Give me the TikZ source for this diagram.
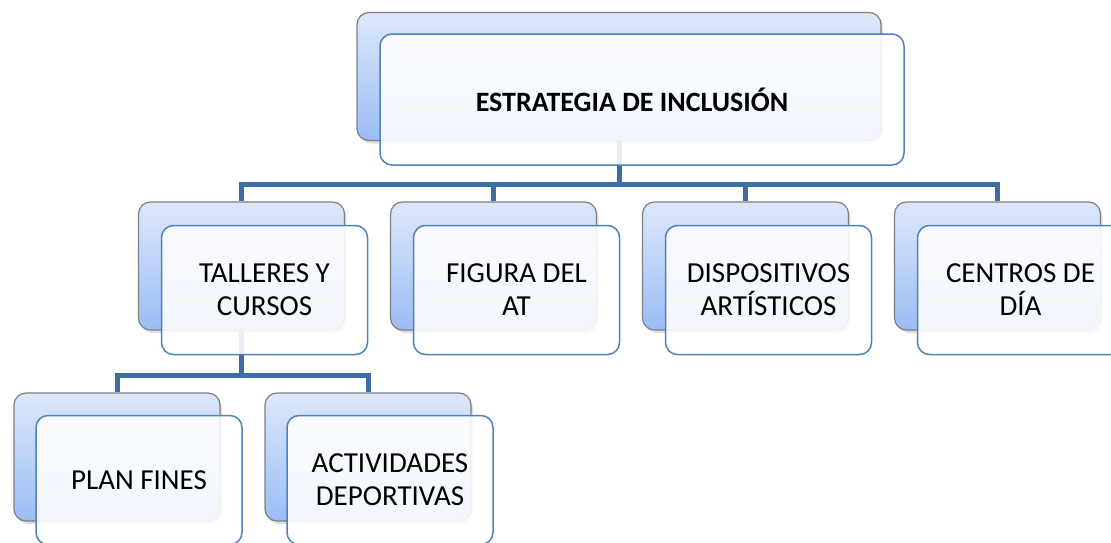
\documentclass[tikz,border=0pt]{standalone}
\usepackage{fontspec}
\setmainfont{Carlito}
\usetikzlibrary{positioning,shadows,backgrounds}
\definecolor{boxgray}{HTML}{7F7F7F}
\definecolor{backtop}{HTML}{DDE7FA}
\definecolor{backbot}{HTML}{9BBDF5}
\definecolor{frontblue}{HTML}{4F81BD}
\definecolor{linkblue}{HTML}{3E6DA3}

\begin{document}
\begin{tikzpicture}[x=1pt,y=-1pt,node distance=252pt,on grid,
    backbox/.style={draw=boxgray, line width=1.2pt, rounded corners=12pt,
      top color=backtop, bottom color=backbot,
      minimum width=206pt, minimum height=128pt,
      drop shadow={shadow xshift=2pt, shadow yshift=-3pt, opacity=0.25}},
    frontbox/.style={draw=frontblue, line width=1.5pt, rounded corners=12pt,
      fill=white, fill opacity=0.88, text opacity=1, align=center,
      minimum width=206pt, minimum height=129pt,
      font=\fontsize{29}{33}\selectfont},
    link/.style={draw=linkblue, line width=5pt}]
   \useasboundingbox (0,0) rectangle (1111,542);
   \clip (0,0) rectangle (1111,542);

   % top level
   \node[backbox, minimum width=524pt, minimum height=128pt] (estrategia) at (619,76.5) {};
   \node[frontbox, minimum width=524pt, minimum height=131pt, xshift=23pt, yshift=-23pt,
     font=\bfseries\fontsize{28}{33}\selectfont] (estrategiaF) at (estrategia) {ESTRATEGIA DE INCLUSI\'ON\hspace*{20pt}};

   % second level
   \node[backbox] (talleres) at (241.5,266) {};
   \node[backbox, right=of talleres] (figura) {};
   \node[backbox, right=of figura] (dispositivos) {};
   \node[backbox, right=of dispositivos] (centros) {};
   \node[frontbox, xshift=23pt, yshift=-24pt] (talleresF) at (talleres) {TALLERES Y\\CURSOS};
   \node[frontbox, xshift=23pt, yshift=-24pt] (figuraF) at (figura) {FIGURA DEL\\AT};
   \node[frontbox, xshift=23pt, yshift=-24pt] (dispositivosF) at (dispositivos) {DISPOSITIVOS\\ART\'ISTICOS};
   \node[frontbox, xshift=23pt, yshift=-24pt] (centrosF) at (centros) {CENTROS DE\\D\'IA};

   % third level
   \node[backbox] (plan) at (117,457) {};
   \node[backbox, right=251pt of plan] (actividades) {};
   \node[frontbox, xshift=22pt, yshift=-23pt] (planF) at (plan) {PLAN FINES};
   \node[frontbox, xshift=22pt, yshift=-23pt] (actividadesF) at (actividades) {ACTIVIDADES\\DEPORTIVAS};

   \begin{scope}[on background layer]
   \draw[link] (estrategia.south) -- ++(0,43) -| (talleres.north);
   \draw[link] (estrategia.south) -- ++(0,43) -| (figura.north);
   \draw[link] (estrategia.south) -- ++(0,43) -| (dispositivos.north);
   \draw[link] (estrategia.south) -- ++(0,43) -| (centros.north);
   \draw[link] (talleres.south) -- ++(0,45) -| (plan.north);
   \draw[link] (talleres.south) -- ++(0,45) -| (actividades.north);
   \end{scope}
\end{tikzpicture}
\end{document}
